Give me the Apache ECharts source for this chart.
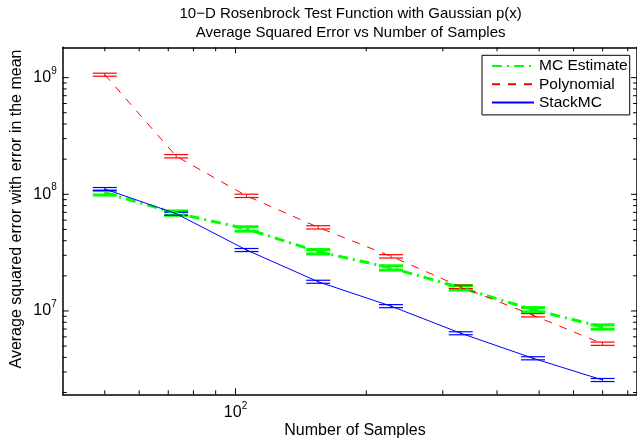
<!DOCTYPE html>
<html><head><meta charset="utf-8">
<script src="https://cdn.jsdelivr.net/npm/echarts@6/dist/echarts.min.js"></script>
<style>html,body{margin:0;padding:0;background:#fff}#c{width:637px;height:443px}</style>
</head><body><div id="c"></div>
<script>
// ---- data ----
const samples   = [50, 73, 106, 155, 228, 330, 484, 700];
const mcMean    = [1.03e8, 6.9e7, 5.05e7, 3.22e7, 2.34e7, 1.58e7, 1.025e7, 7.29e6];
const mcErr     = [4.4e6, 3.0e6, 2.2e6, 1.4e6, 1.0e6, 6.8e5, 4.4e5, 3.1e5];
const polyMean  = [1.06e9, 2.12e8, 9.7e7, 5.21e7, 2.94e7, 1.61e7, 9.19e6, 5.24e6];
const polyErr   = [3.2e7, 7.0e6, 3.2e6, 1.7e6, 9.7e5, 5.3e5, 3.0e5, 1.7e5];
const stackMean = [1.11e8, 6.82e7, 3.33e7, 1.78e7, 1.10e7, 6.44e6, 3.93e6, 2.56e6];
const stackErr  = [3.3e6, 2.0e6, 1.0e6, 5.3e5, 3.3e5, 1.9e5, 1.2e5, 7.7e4];
const seriesNames = ['MC Estimate', 'Polynomial', 'StackMC'];
const xMajorTicks = [100];
const xMinorTicks = [50, 60, 70, 80, 90, 200, 300, 400, 500, 600, 700, 800];
const yMajorTicks = [1e7, 1e8, 1e9];
const yMinorTicks = [2e6, 3e6, 4e6, 5e6, 6e6, 7e6, 8e6, 9e6,
                     2e7, 3e7, 4e7, 5e7, 6e7, 7e7, 8e7, 9e7,
                     2e8, 3e8, 4e8, 5e8, 6e8, 7e8, 8e8, 9e8];
const xRange = [40, 840];
const yRange = [1.93e6, 1.82e9];
const titleLines = ['10\u2212D Rosenbrock Test Function with Gaussian p(x)', 'Average Squared Error vs Number of Samples'];
const xLabel = 'Number of Samples';
const yLabel = 'Average squared error with error in the mean';

// ---- chart ----
const FONT = '"Liberation Sans", Arial, Helvetica, sans-serif';
const G = {left: 62.7, top: 47.3, width: 575.8, height: 347};
const colors = ['#00ff00', '#ff0000', '#0000ff'];

function powLabel(v) {
  const l = Math.log10(v), e = Math.round(l);
  if (Math.abs(l - e) > 1e-6) return '';
  return '{b|10}{s|' + e + '}';
}
const rich = {
  b: {fontSize: 16, fontFamily: FONT, color: '#000', lineHeight: 30},
  s: {fontSize: 10, fontFamily: FONT, color: '#000', lineHeight: 10, verticalAlign: 'top', padding: [3.3, 0, 0, 0]}
};

const tickData = [];
xMinorTicks.forEach(v => tickData.push([v, 1e8, 0]));
xMajorTicks.forEach(v => tickData.push([v, 1e8, 1]));
yMinorTicks.forEach(v => tickData.push([100, v, 2]));
yMajorTicks.forEach(v => tickData.push([100, v, 3]));

function tickRender(params, api) {
  const cs = params.coordSys;
  const code = api.value(2);
  const len = (code === 1 || code === 3) ? 6 : 4;
  const st = {stroke: '#000', lineWidth: 1};
  if (code < 2) {
    const px = api.coord([api.value(0), api.value(1)])[0];
    return {type: 'group', children: [
      {type: 'line', shape: {x1: px, y1: cs.y + cs.height, x2: px, y2: cs.y + cs.height - len}, style: st},
      {type: 'line', shape: {x1: px, y1: cs.y, x2: px, y2: cs.y + len}, style: st}
    ]};
  } else {
    const py = api.coord([api.value(0), api.value(1)])[1];
    return {type: 'group', children: [
      {type: 'line', shape: {x1: cs.x, y1: py, x2: cs.x + len, y2: py}, style: st},
      {type: 'line', shape: {x1: cs.x + cs.width, y1: py, x2: cs.x + cs.width - len, y2: py}, style: st}
    ]};
  }
}

function errRenderer(color, w) {
  return function (params, api) {
    const x = api.value(0), m = api.value(1), e = api.value(2);
    const hi = api.coord([x, m + e]), lo = api.coord([x, m - e]);
    const hw = 12;
    const st = {stroke: color, lineWidth: w};
    return {type: 'group', children: [
      {type: 'line', shape: {x1: hi[0], y1: hi[1], x2: lo[0], y2: lo[1]}, style: {stroke: color, lineWidth: 1}},
      {type: 'line', shape: {x1: hi[0] - hw, y1: hi[1], x2: hi[0] + hw, y2: hi[1]}, style: st},
      {type: 'line', shape: {x1: lo[0] - hw, y1: lo[1], x2: lo[0] + hw, y2: lo[1]}, style: st}
    ]};
  };
}

const means = [mcMean, polyMean, stackMean];
const errs = [mcErr, polyErr, stackErr];
const lineTypes = [[10, 5, 2, 5], [8, 8], 'solid'];
const lineWidths = [3, 1, 1];
const capWidths = [3, 1.2, 1.2];

const series = [];
for (let k = 0; k < 3; k++) {
  series.push({
    type: 'line', name: seriesNames[k],
    data: samples.map((s, i) => [s, means[k][i]]),
    symbol: 'none', silent: true, animation: false,
    lineStyle: {color: colors[k], width: lineWidths[k], type: lineTypes[k], cap: 'butt'},
    itemStyle: {color: colors[k]}
  });
  series.push({
    type: 'custom', name: seriesNames[k] + ' err',
    data: samples.map((s, i) => [s, means[k][i], errs[k][i]]),
    encode: {x: 0, y: 1}, silent: true, animation: false, clip: false,
    renderItem: errRenderer(colors[k], capWidths[k])
  });
}
series.push({
  type: 'custom', data: tickData, encode: {x: 0, y: 1}, silent: true, animation: false, clip: false, z: 20,
  renderItem: tickRender
});

const axisLineStyle = {show: true, lineStyle: {color: '#000', width: 1.5}};
const chart = echarts.init(document.getElementById('c'), null, {renderer: 'canvas'});
chart.setOption({
  animation: false,
  backgroundColor: '#fff',
  grid: G,
  xAxis: [
    {type: 'log', logBase: 10, min: xRange[0], max: xRange[1], position: 'bottom',
     axisLine: axisLineStyle, axisTick: {show: false}, splitLine: {show: false},
     axisLabel: {formatter: powLabel, rich: rich, margin: 3.2, showMinLabel: false, showMaxLabel: false}},
    {type: 'log', logBase: 10, min: xRange[0], max: xRange[1], position: 'top',
     axisLine: axisLineStyle, axisTick: {show: false}, splitLine: {show: false}, axisLabel: {show: false}}
  ],
  yAxis: [
    {type: 'log', logBase: 10, min: yRange[0], max: yRange[1], position: 'left',
     axisLine: axisLineStyle, axisTick: {show: false}, splitLine: {show: false},
     axisLabel: {formatter: powLabel, rich: rich, margin: 6, showMinLabel: false, showMaxLabel: false}},
    {type: 'log', logBase: 10, min: yRange[0], max: yRange[1], position: 'right',
     axisLine: axisLineStyle, axisTick: {show: false}, splitLine: {show: false}, axisLabel: {show: false}}
  ],
  legend: {
    data: seriesNames, orient: 'vertical', left: 482, top: 55.3,
    itemWidth: 42, itemHeight: 16, itemGap: 2.3, selectedMode: false,
    padding: [2.7, 2, 4.3, 9],
    itemStyle: {opacity: 0},
    backgroundColor: '#fff', borderColor: '#000', borderWidth: 1,
    textStyle: {fontFamily: FONT, fontSize: 15.5, color: '#000', lineHeight: 16}
  },
  graphic: [
    {type: 'text', x: 350.6, y: 14, style: {text: titleLines[0], font: '15px ' + FONT, fill: '#000', textAlign: 'center', textVerticalAlign: 'middle'}},
    {type: 'text', x: 350.6, y: 33, style: {text: titleLines[1], font: '15px ' + FONT, fill: '#000', textAlign: 'center', textVerticalAlign: 'middle'}},
    {type: 'text', x: 355, y: 431, style: {text: xLabel, font: '16px ' + FONT, fill: '#000', textAlign: 'center', textVerticalAlign: 'middle'}},
    {type: 'text', x: 17, y: 209, rotation: Math.PI / 2, style: {text: yLabel, font: '16px ' + FONT, fill: '#000', textAlign: 'center', textVerticalAlign: 'middle'}}
  ],
  series: series
});
</script></body></html>
